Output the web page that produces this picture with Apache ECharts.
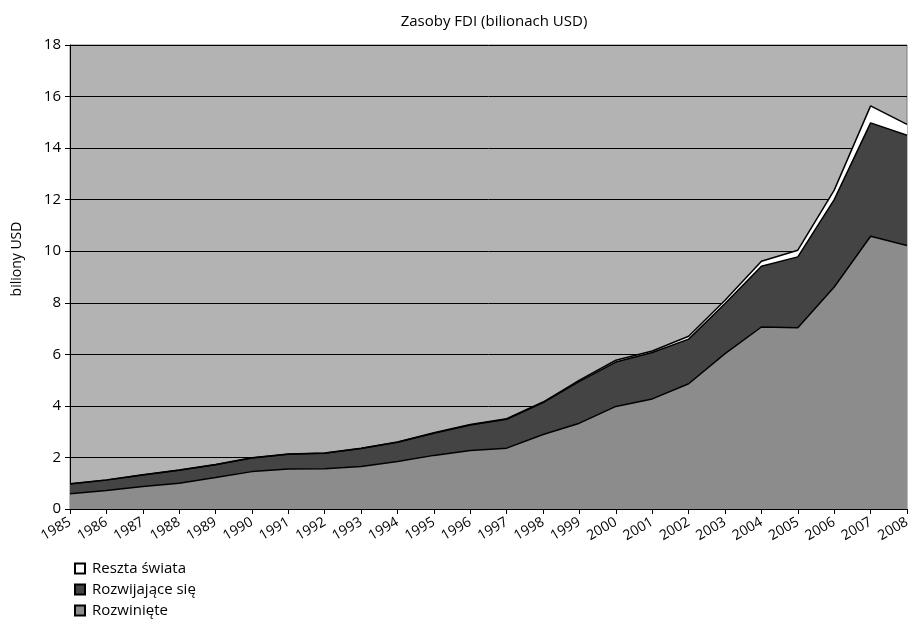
<!DOCTYPE html>
<html>
<head>
    <meta charset="utf-8"/>
    <title>Zasoby FDI</title>
    <script src="https://cdn.jsdelivr.net/npm/echarts@6/dist/echarts.min.js"></script>
    <style>
        html, body { margin: 0; padding: 0; background: #fff; }
        #chart { width: 912px; height: 619px; }
    </style>
</head>
<body>
<div id="chart"></div>
<script type="text/javascript">
    // lata
    var years = ['1985', '1986', '1987', '1988', '1989', '1990', '1991', '1992', '1993', '1994', '1995', '1996',
        '1997', '1998', '1999', '2000', '2001', '2002', '2003', '2004', '2005', '2006', '2007', '2008'];
    // biliony USD
    var rozwiniete = [0.59, 0.72, 0.87, 1.00, 1.22, 1.45, 1.55, 1.56, 1.65, 1.84, 2.08, 2.27,
        2.36, 2.89, 3.33, 3.98, 4.27, 4.86, 6.03, 7.06, 7.03, 8.61, 10.58, 10.22];
    var rozwijajace = [0.38, 0.40, 0.45, 0.50, 0.50, 0.53, 0.57, 0.60, 0.70, 0.75, 0.86, 0.99,
        1.12, 1.24, 1.62, 1.72, 1.80, 1.73, 1.94, 2.36, 2.75, 3.39, 4.40, 4.28];
    var reszta = [0.01, 0.01, 0.01, 0.01, 0.01, 0.01, 0.01, 0.01, 0.01, 0.01, 0.02, 0.02,
        0.02, 0.02, 0.05, 0.07, 0.06, 0.11, 0.13, 0.19, 0.26, 0.37, 0.66, 0.42];
    var yTicks = [0, 2, 4, 6, 8, 10, 12, 14, 16, 18];

    var font = 'Open Sans';
    var chart = echarts.init(document.getElementById('chart'));

    var makeSeries = function (name, data, color) {
        return {
            name: name,
            type: 'line',
            stack: 'fdi',
            data: data,
            symbol: 'none',
            lineStyle: {color: '#000', width: 1.5},
            itemStyle: {color: color, borderColor: '#000', borderWidth: 1},
            areaStyle: {color: color, opacity: 1},
            animation: false
        };
    };

    chart.setOption({
        animation: false,
        textStyle: {fontFamily: font, color: '#000'},
        title: {
            text: 'Zasoby FDI (bilionach USD)',
            left: 489,
            textAlign: 'center',
            top: 9,
            textStyle: {fontFamily: font, fontSize: 15, fontWeight: 'normal', color: '#000'}
        },
        legend: {
            orient: 'vertical',
            left: 69,
            top: 556,
            height: 62,
            itemWidth: 10,
            itemHeight: 10,
            itemGap: 6,
            icon: 'rect',
            data: ['Reszta świata', 'Rozwijające się', 'Rozwinięte'],
            textStyle: {fontFamily: font, fontSize: 15, color: '#000', padding: [0, 0, 0, 2]}
        },
        grid: {
            left: 70,
            right: 5,
            top: 45,
            bottom: 110,
            outerBoundsMode: 'none',
            show: true,
            backgroundColor: '#b3b3b3',
            borderColor: '#7a7a7a',
            borderWidth: 1
        },
        xAxis: {
            type: 'category',
            data: years,
            boundaryGap: false,
            axisLine: {lineStyle: {color: '#000', width: 1}},
            axisTick: {show: true, length: 5, alignWithLabel: true, lineStyle: {color: '#000'}},
            axisLabel: {
                interval: 0,
                rotate: 30,
                margin: 12,
                fontSize: 14,
                color: '#000',
                fontFamily: font
            },
            splitLine: {show: false}
        },
        yAxis: {
            type: 'value',
            min: yTicks[0],
            max: yTicks[yTicks.length - 1],
            interval: yTicks[1] - yTicks[0],
            name: 'biliony USD',
            nameLocation: 'middle',
            nameGap: 46,
            nameTextStyle: {fontFamily: font, fontSize: 14, color: '#000', padding: [0, 0, 0, 36]},
            axisLine: {show: true, lineStyle: {color: '#000', width: 1}},
            axisTick: {show: true, length: 5, lineStyle: {color: '#000'}},
            axisLabel: {fontSize: 15, color: '#000', margin: 9, fontFamily: font},
            splitLine: {show: true, lineStyle: {color: '#000', width: 1}}
        },
        series: [
            makeSeries('Rozwinięte', rozwiniete, '#8c8c8c'),
            makeSeries('Rozwijające się', rozwijajace, '#444444'),
            makeSeries('Reszta świata', reszta, '#ffffff')
        ]
    });
</script>
</body>
</html>
